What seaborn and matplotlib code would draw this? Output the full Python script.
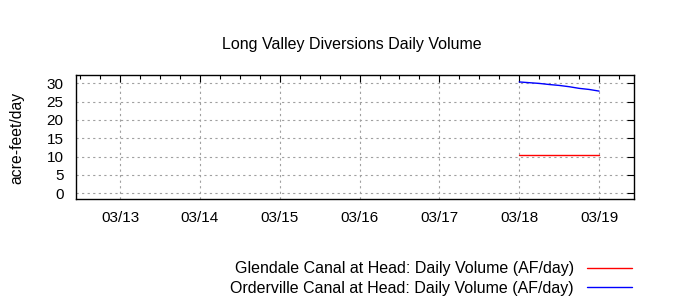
import matplotlib
matplotlib.use("Agg")
import matplotlib.pyplot as plt
import matplotlib.dates as mdates
from matplotlib.lines import Line2D
import seaborn as sns
import pandas as pd

# ---- data ----
glendale_times = ["2024-03-18 00:00", "2024-03-19 00:00"]
glendale_values = [10.4, 10.4]

orderville_times = ["2024-03-18 00:00", "2024-03-18 03:00", "2024-03-18 06:00",
                    "2024-03-18 09:00", "2024-03-18 12:00", "2024-03-18 15:00",
                    "2024-03-18 18:00", "2024-03-18 21:00", "2024-03-19 00:00"]
orderville_values = [30.4, 30.2, 30.0, 29.7, 29.45, 29.1, 28.65, 28.35, 27.9]

series_names = ["Glendale Canal at Head: Daily Volume (AF/day)",
                "Orderville Canal at Head: Daily Volume (AF/day)"]
series_colors = ["#ff0000", "#0000ff"]
title = "Long Valley Diversions Daily Volume"
ylabel = "acre-feet/day"
yticks = [0, 5, 10, 15, 20, 25, 30]

df = pd.concat([
    pd.DataFrame({"time": pd.to_datetime(glendale_times), "value": glendale_values,
                  "series": series_names[0]}),
    pd.DataFrame({"time": pd.to_datetime(orderville_times), "value": orderville_values,
                  "series": series_names[1]}),
], ignore_index=True)

sns.set_theme(style="white")
plt.rcParams["font.family"] = ["Liberation Sans", "DejaVu Sans"]
plt.rcParams["text.color"] = "black"

fig = plt.figure(figsize=(7, 3), dpi=100)
ax = fig.add_axes([76/700, 1-199/300, (634-76)/700, (199-75)/300])

sns.lineplot(data=df, x="time", y="value", hue="series",
             palette=dict(zip(series_names, series_colors)),
             linewidth=1, ax=ax, legend=False, estimator=None)

ax.set_xlim(pd.Timestamp("2024-03-12 10:45"), pd.Timestamp("2024-03-19 10:30"))
ax.set_ylim(-1.6, 32.3)
ax.set_yticks(yticks)
ax.xaxis.set_major_locator(mdates.DayLocator())
ax.xaxis.set_minor_locator(mdates.HourLocator(byhour=[6, 12, 18]))
ax.xaxis.set_major_formatter(mdates.DateFormatter("%m/%d"))
ax.set_xlabel("")
ax.set_ylabel("")

ax.tick_params(axis="both", which="both", direction="in", top=True, right=True,
               colors="black", labelsize=11, width=0.8)
ax.tick_params(axis="both", which="major", length=5)
ax.tick_params(axis="x", which="minor", length=3)
ax.tick_params(axis="x", which="major", pad=8.5)
ax.tick_params(axis="y", which="major", pad=9)

for s in ax.spines.values():
    s.set_visible(True)
    s.set_color("black")
    s.set_linewidth(1)

ax.grid(True, which="major", color="#a0a0a0", linestyle=(0, (2, 3)), linewidth=0.8)

fig.text(0.503, 1-45/300, title, ha="center", va="center", fontsize=11.5, color="black")
fig.text(17/700, 1-138/300, ylabel, ha="center", va="center", rotation=90,
         fontsize=11.3, color="black")

handles = [Line2D([], [], color=c, linewidth=1) for c in series_colors]
leg = fig.legend(handles, series_names, loc="lower right",
                 bbox_to_anchor=(632/700, 1-296/300), frameon=False, markerfirst=False,
                 fontsize=11.5, handlelength=2.8, handletextpad=0.85, labelspacing=0.3,
                 borderpad=0, borderaxespad=0)
for t in leg.get_texts():
    t.set_color("black")

fig.savefig("out.png", dpi=100, facecolor="white")
